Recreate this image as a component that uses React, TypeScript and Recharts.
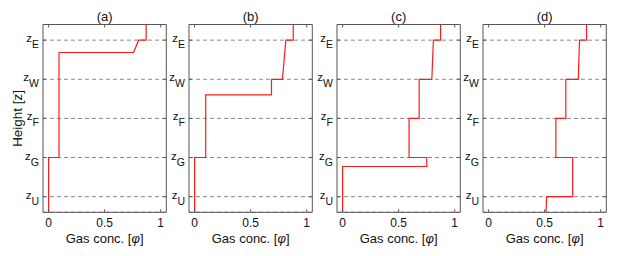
import { LineChart, Line, XAxis, YAxis, CartesianGrid, ReferenceArea } from "recharts";

// height levels (bottom to top) and their subscripts
const LEVELS = [1, 2, 3, 4, 5];
const LEVEL_NAMES = ["U", "G", "F", "W", "E"];
const CONC_TICKS = [0, 0.5, 1];
const TITLES = ["(a)", "(b)", "(c)", "(d)"];

// gas concentration profiles, read top to bottom
const CONC_A = [0.87, 0.87, 0.803, 0.758, 0.093, 0.093, 0, 0];
const HEIGHT_A = [5.4, 5, 5, 4.685, 4.685, 2, 2, 0.6];

const CONC_B = [0.88, 0.88, 0.814, 0.784, 0.686, 0.686, 0.099, 0.099, 0, 0];
const HEIGHT_B = [5.4, 5, 5, 4, 4, 3.6, 3.6, 2, 2, 0.6];

const CONC_C = [0.874, 0.874, 0.81, 0.796, 0.683, 0.683, 0.593, 0.593, 0.751, 0.751, 0, 0];
const HEIGHT_C = [5.4, 5, 5, 4, 4, 3, 3, 2, 2, 1.77, 1.77, 0.6];

const CONC_D = [0.874, 0.874, 0.811, 0.8, 0.689, 0.689, 0.6, 0.6, 0.75, 0.75, 0.518, 0.512];
const HEIGHT_D = [5.4, 5, 5, 4, 4, 3, 3, 2, 2, 1, 1, 0.6];

const PROFILES = [
  [CONC_A, HEIGHT_A],
  [CONC_B, HEIGHT_B],
  [CONC_C, HEIGHT_C],
  [CONC_D, HEIGHT_D],
];

const FONT = '"Liberation Sans", Arial, Helvetica, sans-serif';
const AXIS = "#555";
const PLOT_TOP = 24.5;
const PLOT_BOTTOM = 212.3;
const PLOT_W = 123.3;
const Y_AXIS_W = 42;
const RIGHT_PAD = 10;
const PANEL_LEFTS = [42.7, 189.3, 336.7, 482.7];

const XTick = (props: any) => {
  const { x, payload } = props;
  return (
    <g>
      <line x1={x} x2={x} y1={PLOT_BOTTOM} y2={PLOT_BOTTOM - 3} stroke={AXIS} />
      <line x1={x} x2={x} y1={PLOT_TOP} y2={PLOT_TOP + 3} stroke={AXIS} />
      <text x={x} y={PLOT_BOTTOM + 14.5} textAnchor="middle" fontSize={12} fill="#111" fontFamily={FONT}>
        {String(payload.value)}
      </text>
    </g>
  );
};

const YTick = (props: any) => {
  const { x, y, payload } = props;
  const name = LEVEL_NAMES[LEVELS.indexOf(payload.value)];
  return (
    <g>
      <line x1={x} x2={x + 3} y1={y} y2={y} stroke={AXIS} />
      <line x1={x + PLOT_W - 3} x2={x + PLOT_W} y1={y} y2={y} stroke={AXIS} />
      <text x={x - 4} y={y + 2} textAnchor="end" fontSize={11.5} fill="#111" fontFamily={FONT}>
        z
        <tspan fontSize={10.5} dy={6}>
          {name}
        </tspan>
      </text>
    </g>
  );
};

function Panel({ index }: { index: number }) {
  const [conc, height] = PROFILES[index];
  const data = conc.map((c, i) => ({ c, z: height[i] }));
  const left = PANEL_LEFTS[index] - Y_AXIS_W;
  return (
    <div style={{ position: "absolute", left, top: 0 }}>
      <LineChart
        width={Y_AXIS_W + PLOT_W + RIGHT_PAD}
        height={256}
        data={data}
        margin={{ top: PLOT_TOP, right: RIGHT_PAD, bottom: 0, left: 0 }}
      >
        <CartesianGrid
          vertical={false}
          horizontal
          stroke="#8a8a8a"
          strokeDasharray="4 3"
        />
        <XAxis
          type="number"
          dataKey="c"
          domain={[-0.05, 1.05]}
          ticks={CONC_TICKS}
          allowDataOverflow
          axisLine={false}
          tickLine={false}
          tickSize={0}
          tickMargin={0}
          height={256 - PLOT_BOTTOM}
          tick={XTick}
          interval={0}
          label={{
            content: (p: any) => {
              const vb = p.viewBox;
              return (
                <text
                  x={vb.x + vb.width / 2}
                  y={PLOT_BOTTOM + 30.5}
                  textAnchor="middle"
                  fontSize={13}
                  fill="#111"
                  fontFamily={FONT}
                >
                  Gas conc. [<tspan fontStyle="italic">φ</tspan>]
                </text>
              );
            },
          }}
        />
        <YAxis
          type="number"
          domain={[0.6, 5.4]}
          ticks={LEVELS}
          allowDataOverflow
          axisLine={false}
          tickLine={false}
          tickSize={0}
          tickMargin={0}
          width={Y_AXIS_W}
          tick={YTick}
          interval={0}
          label={
            index === 0
              ? {
                  content: () => {
                    const cx = 17 - left;
                    const cy = (PLOT_TOP + PLOT_BOTTOM) / 2;
                    return (
                      <text
                        x={cx}
                        y={cy}
                        transform={`rotate(-90 ${cx} ${cy})`}
                        textAnchor="middle"
                        dominantBaseline="central"
                        fontSize={13.5}
                        fill="#111"
                        fontFamily={FONT}
                      >
                        Height [z]
                      </text>
                    );
                  },
                }
              : undefined
          }
        />
        <ReferenceArea
          x1={-0.05}
          x2={1.05}
          y1={0.6}
          y2={5.4}
          fill="none"
          fillOpacity={0}
          stroke={AXIS}
          strokeWidth={1}
          ifOverflow="visible"
          label={{
            content: (p: any) => {
              const vb = p.viewBox;
              return (
                <text
                  x={vb.x + vb.width / 2}
                  y={vb.y - 3.5}
                  textAnchor="middle"
                  fontSize={13}
                  fill="#111"
                  fontFamily={FONT}
                >
                  {TITLES[index]}
                </text>
              );
            },
          }}
        />
        <Line
          type="linear"
          dataKey="z"
          stroke="#ff1a1a"
          strokeWidth={1.2}
          dot={false}
          activeDot={false}
          isAnimationActive={false}
        />
      </LineChart>
    </div>
  );
}

export default function App() {
  return (
    <div
      style={{
        position: "absolute",
        left: 0,
        top: 0,
        width: 625,
        height: 256,
        background: "#fff",
        fontFamily: FONT,
      }}
    >
      {TITLES.map((_, i) => (
        <Panel key={i} index={i} />
      ))}
    </div>
  );
}
